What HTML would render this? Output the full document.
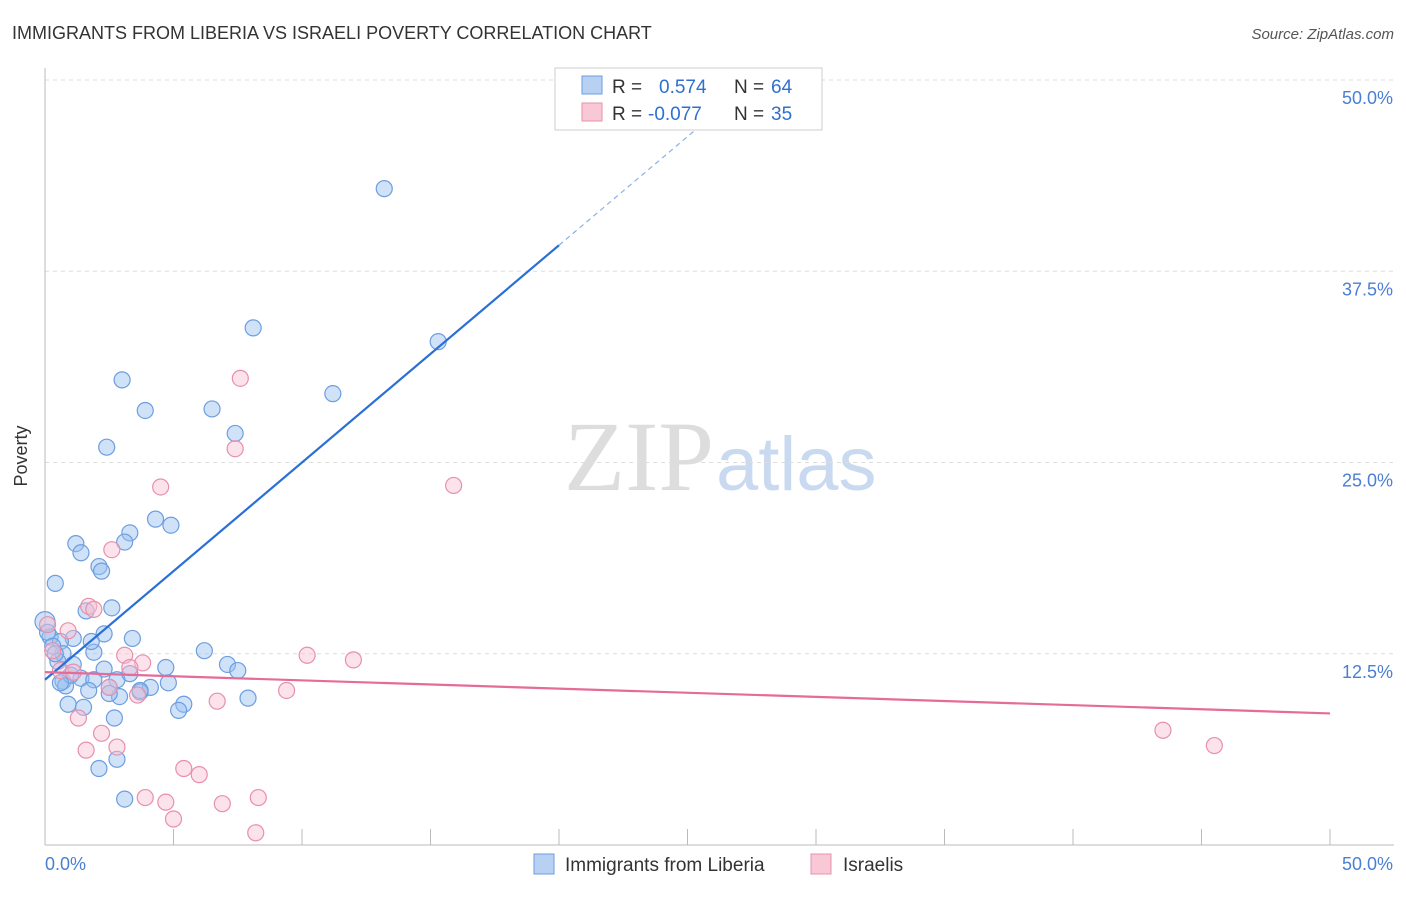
<!DOCTYPE html>
<html><head><meta charset="utf-8"><style>
body{margin:0;background:#fff;font-family:"Liberation Sans",sans-serif}
</style></head><body>
<svg id="c" width="1406" height="892" viewBox="0 0 1406 892">
<text x="12" y="39" font-size="18" fill="#333">IMMIGRANTS FROM LIBERIA VS ISRAELI POVERTY CORRELATION CHART</text>
<text x="1394" y="39" font-size="15" fill="#555" font-style="italic" text-anchor="end">Source: ZipAtlas.com</text>
<text x="714" y="490" font-size="100" fill="#ddd" text-anchor="end" font-family="Liberation Serif,serif">ZIP</text>
<text x="716" y="490" font-size="76" fill="#c9daf0">atlas</text>
<g id="grid"></g>
<line x1="45" y1="68" x2="45" y2="845" stroke="#bbb"/>
<line x1="45" y1="845" x2="1394" y2="845" stroke="#bbb"/>
<g id="xt"></g>
<text x="27" y="456" font-size="18" fill="#333" transform="rotate(-90 27 456)" text-anchor="middle">Poverty</text>
<text x="45" y="870" font-size="18" fill="#4a7fd4">0.0%</text>
<text x="1393" y="870" font-size="18" fill="#4a7fd4" text-anchor="end">50.0%</text>
<g id="pts"></g>
<g id="lines"></g>
<g>
<rect x="555" y="68" width="267" height="62" fill="#fff" stroke="#ccc"/>
<rect x="582" y="76" width="20" height="18" fill="#b8d0f2" stroke="#6d9ee0"/>
<rect x="582" y="103" width="20" height="18" fill="#f8c8d6" stroke="#e890ab"/>
<text x="612" y="93" font-size="19" fill="#333">R =</text>
<text x="659" y="93" font-size="19" fill="#2f6fd0">0.574</text>
<text x="734" y="93" font-size="19" fill="#333">N =</text>
<text x="771" y="93" font-size="19" fill="#2f6fd0">64</text>
<text x="612" y="120" font-size="19" fill="#333">R =</text>
<text x="648" y="120" font-size="19" fill="#2f6fd0">-0.077</text>
<text x="734" y="120" font-size="19" fill="#333">N =</text>
<text x="771" y="120" font-size="19" fill="#2f6fd0">35</text>
</g>
<g>
<rect x="534" y="854" width="20" height="20" fill="#b8d0f2" stroke="#6d9ee0"/>
<text x="565" y="871" font-size="19" fill="#333">Immigrants from Liberia</text>
<rect x="811" y="854" width="20" height="20" fill="#f8c8d6" stroke="#e890ab"/>
<text x="843" y="871" font-size="19" fill="#333">Israelis</text>
</g>
</svg>
<script>
const yTicks=[12.5,25,37.5,50];
const xTickVals=[0,5,10,15,20,25,30,35,40,45,50];
const blueX=[13.2,8.1,15.3,3,11.2,3.9,6.5,7.4,2.4,4.3,4.9,3.3,3.1,1.2,1.4,2.1,2.2,0.4,2.6,1.6,0,2.3,3.4,1.1,0.2,0.6,1.9,6.2,1.8,0.7,0.5,1.1,4.7,2.3,7.1,7.5,1.4,1.9,2.8,0.7,0.8,1.7,2.5,4.8,4.1,3.7,2.9,7.9,5.4,0.9,1.5,5.2,2.7,2.8,2.1,3.1,0.1,0.3,0.4,3.3,3.7,1,0.6,2.5];
const blueY=[42.9,33.8,32.9,30.4,29.5,28.4,28.5,26.9,26,21.3,20.9,20.4,19.8,19.7,19.1,18.2,17.9,17.1,15.5,15.3,14.6,13.8,13.5,13.5,13.6,13.3,12.6,12.7,13.3,12.5,12,11.8,11.6,11.5,11.8,11.4,10.9,10.8,10.8,10.7,10.4,10.1,10.3,10.6,10.3,10,9.7,9.6,9.2,9.2,9,8.8,8.3,5.6,5,3,13.9,13,12.5,11.2,10.1,11.1,10.6,9.9];
const pinkX=[7.6,7.4,4.5,15.9,2.6,1.7,1.9,0.1,0.3,0.9,3.1,3.8,3.3,10.2,12,0.6,1.1,2.5,3.6,9.4,6.7,1.3,2.2,2.8,1.6,5.4,6,3.9,4.7,6.9,8.3,5,8.2,43.5,45.5];
const pinkY=[30.5,25.9,23.4,23.5,19.3,15.6,15.4,14.4,12.7,14,12.4,11.9,11.6,12.4,12.1,11.4,11.3,10.3,9.8,10.1,9.4,8.3,7.3,6.4,6.2,5.0,4.6,3.1,2.8,2.7,3.1,1.7,0.8,7.5,6.5];
const blueFit=[0,10.8,20,39.2];
const pinkFit=[0,11.3,50,8.6];
const X=v=>45+v/50*1285, Y=v=>845-v/50*765;
const NS='http://www.w3.org/2000/svg';
function mk(t,a,p){const e=document.createElementNS(NS,t);for(const k in a)e.setAttribute(k,a[k]);p.appendChild(e);return e;}
const g=document.getElementById('grid');
yTicks.forEach(t=>{
 const l=mk('line',{x1:45,x2:1394,y1:Y(t),y2:Y(t),stroke:'#ddd','stroke-dasharray':'4,4'},g);
 
 
 const tx=mk('text',{x:1393,y:Y(t)+24,'font-size':18,fill:'#4a7fd4','text-anchor':'end'},g);
 tx.textContent=t.toFixed(1)+'%';
 
 
});
const xt=document.getElementById('xt');
xTickVals.forEach(t=>{
 const l=mk('line',{x1:X(t),x2:X(t),y1:829,y2:845,stroke:'#bbb'},xt);
 
 
});
const p=document.getElementById('pts');
blueX.forEach((x,i)=>{
 const c=mk('circle',{cx:X(x),cy:Y(blueY[i]),r:i==20?10:8,fill:'rgba(150,190,240,0.45)',stroke:'#6d9ee0','stroke-width':1.2},p);
 
 
});
pinkX.forEach((x,i)=>{
 const c=mk('circle',{cx:X(x),cy:Y(pinkY[i]),r:8,fill:'rgba(248,190,210,0.45)',stroke:'#e890ab','stroke-width':1.2},p);
 
 
});
const L=document.getElementById('lines');
const slope=(blueFit[3]-blueFit[1])/(blueFit[2]-blueFit[0]);
const yb=x=>blueFit[1]+slope*(x-blueFit[0]);
const xs=blueFit[2], xe=(720-45)/1285*50;
let l=mk('line',{x1:X(0),y1:Y(yb(0)),x2:X(xs),y2:Y(yb(xs)),stroke:'#2a6fd6','stroke-width':2.2},L);


l=mk('line',{x1:X(xs),y1:Y(yb(xs)),x2:X(xe),y2:Y(yb(xe)),stroke:'#8ab0e6','stroke-width':1.2,'stroke-dasharray':'5,4'},L);


l=mk('line',{x1:X(pinkFit[0]),y1:Y(pinkFit[1]),x2:X(pinkFit[2]),y2:Y(pinkFit[3]),stroke:'#e56b98','stroke-width':2.2},L);


</script>
</body></html>
